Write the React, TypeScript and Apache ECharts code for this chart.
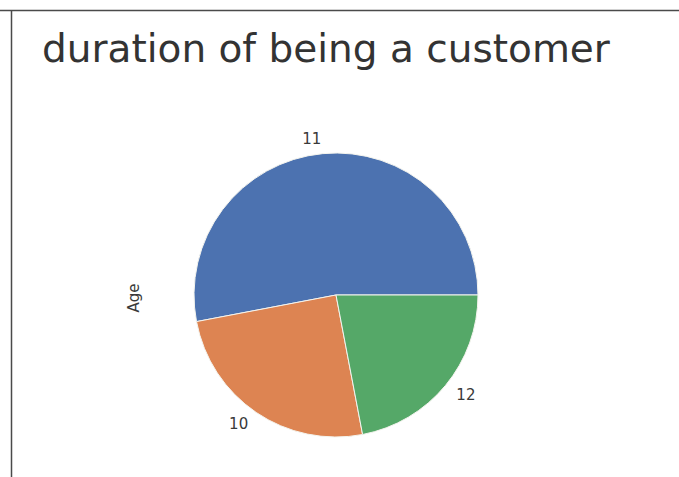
import React, { useEffect, useRef } from "react";
import * as echarts from "echarts";

const categories = ["11", "10", "12"];
const counts = [53, 25, 22];
const colors = ["#4C72B0", "#DD8452", "#55A868"];
const titleText = "duration of being a customer";
const yLabel = "Age";

export default function App() {
  const ref = useRef<HTMLDivElement>(null);
  useEffect(() => {
    const chart = echarts.init(ref.current!, null, { renderer: "svg" });
    const R = 142;
    chart.setOption({
      animation: false,
      backgroundColor: "#ffffff",
      title: {
        text: titleText,
        left: 42,
        top: 29,
        padding: 0,
        textStyle: {
          fontFamily: "DejaVu Sans",
          fontSize: 39,
          fontWeight: "normal",
          color: "#333333",
        },
      },
      graphic: [
        {
          type: "line",
          shape: { x1: 0, y1: 10.5, x2: 679, y2: 10.5 },
          style: { stroke: "#4a4a4a", lineWidth: 1.5 },
        },
        {
          type: "line",
          shape: { x1: 11.5, y1: 10.5, x2: 11.5, y2: 477 },
          style: { stroke: "#4a4a4a", lineWidth: 1.5 },
        },
        {
          type: "text",
          x: 134,
          y: 298,
          rotation: Math.PI / 2,
          style: {
            text: yLabel,
            fontFamily: "DejaVu Sans",
            fontSize: 15,
            fill: "#3a3a3a",
            align: "center",
            verticalAlign: "middle",
          },
        },
      ],
      series: [
        {
          type: "pie",
          center: [336, 295],
          radius: [0, R],
          startAngle: 0,
          clockwise: false,
          avoidLabelOverlap: false,
          itemStyle: { borderColor: "#f4f4ee", borderWidth: 1 },
          label: {
            show: true,
            position: "outside",
            formatter: "{b}",
            fontFamily: "DejaVu Sans",
            fontSize: 15,
            color: "#3a3a3a",
            distanceToLabelLine: 0,
            alignTo: "none",
          },
          labelLine: { show: false, length: R * 0.1, length2: 0 },
          emphasis: { disabled: true },
          data: categories.map((c, i) => ({
            name: c,
            value: counts[i],
            itemStyle: { color: colors[i] },
          })),
        },
      ],
    });
    return () => chart.dispose();
  }, []);
  return (
    <div
      ref={ref}
      style={{ position: "absolute", left: 0, top: 0, width: 679, height: 477 }}
    />
  );
}
